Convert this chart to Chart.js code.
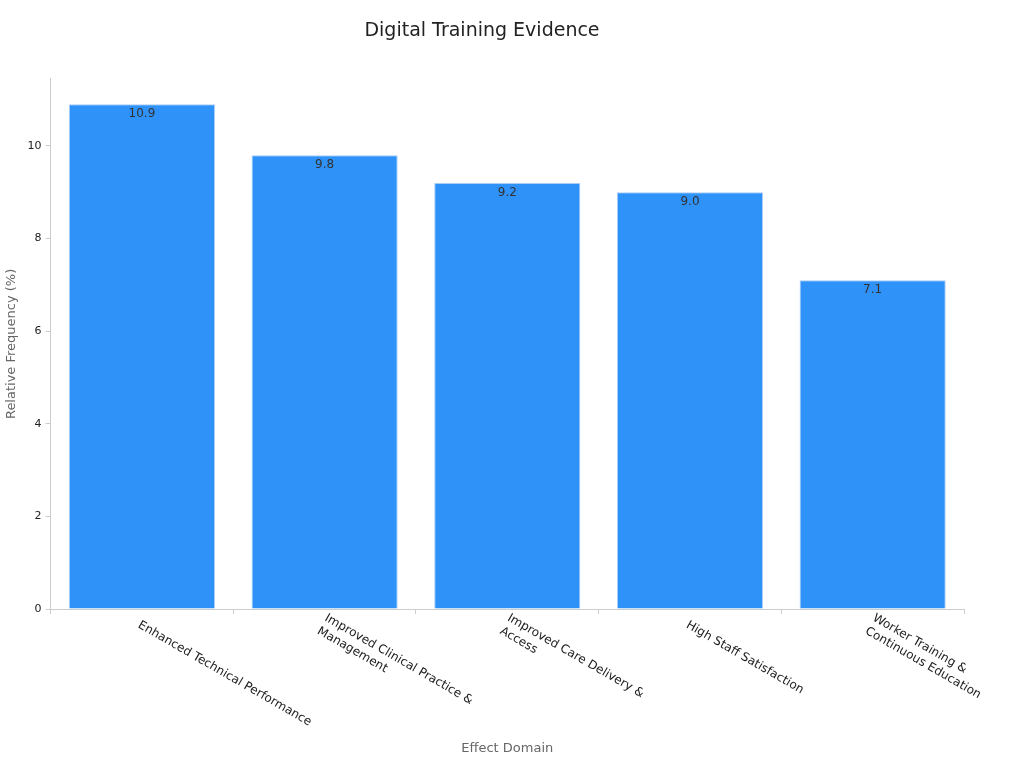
<!DOCTYPE html>
<html>
<head>
<meta charset="utf-8">
<script src="https://cdn.jsdelivr.net/npm/chart.js@4"></script>
<style>
  body { margin: 0; background: #fff; }
</style>
</head>
<body>
<canvas id="myChart" width="1024" height="768"></canvas>
<script>
const categories = [
  ['Enhanced Technical Performance'],
  ['Improved Clinical Practice &', 'Management'],
  ['Improved Care Delivery &', 'Access'],
  ['High Staff Satisfaction'],
  ['Worker Training &', 'Continuous Education']
];
const values = [10.9, 9.8, 9.2, 9.0, 7.1];
const yTicks = [0, 2, 4, 6, 8, 10];

const FONT = 'DejaVu Sans';

// draws rotated x labels (down-right) and the value labels in the bars
const labelPlugin = {
  id: 'labels',
  afterDraw(chart) {
    const c = chart.ctx;
    const x = chart.scales.x;
    c.save();
    c.fillStyle = '#222';
    c.font = '12px ' + FONT;
    c.textAlign = 'left';
    c.textBaseline = 'top';
    categories.forEach((lines, i) => {
      const px = x.getPixelForTick(i);
      c.save();
      c.translate(px, x.top + 10);
      c.rotate(Math.PI / 6);
      lines.forEach((t, j) => {
        c.fillText(t, 0, j * 15 - (lines.length > 1 ? 8 : 0));
      });
      c.restore();
    });
    const meta = chart.getDatasetMeta(0);
    c.fillStyle = '#333';
    c.textAlign = 'center';
    c.textBaseline = 'top';
    meta.data.forEach((bar, i) => {
      c.fillText(values[i].toFixed(1), bar.x, bar.y + 4);
    });
    c.restore();
  }
};

new Chart(document.getElementById('myChart'), {
  type: 'bar',
  data: {
    labels: categories.map(l => l.join(' ')),
    datasets: [{
      data: values,
      backgroundColor: '#2e92f8',
      borderColor: '#a9cdf5',
      borderWidth: 1,
      barPercentage: 0.8,
      categoryPercentage: 1
    }]
  },
  plugins: [labelPlugin],
  options: {
    responsive: false,
    animation: false,
    devicePixelRatio: 1,
    layout: { padding: { left: 0, right: 60, top: 10, bottom: 8 } },
    plugins: {
      legend: { display: false },
      tooltip: { enabled: false },
      title: {
        display: true,
        text: 'Digital Training Evidence',
        color: '#222',
        font: { family: FONT, size: 19, weight: 'normal' },
        padding: { top: 10, bottom: 36 }
      }
    },
    scales: {
      x: {
        grid: { display: true, drawOnChartArea: false, tickLength: 5, color: '#ccc' },
        border: { color: '#ccc' },
        ticks: { display: false },
        title: { display: true, text: 'Effect Domain', color: '#666', font: { family: FONT, size: 13 } },
        afterFit(s) { s.height = 151; }
      },
      y: {
        min: 0,
        max: 11.45,
        afterBuildTicks(s) { s.ticks = yTicks.map(v => ({ value: v })); },
        grid: { display: true, drawOnChartArea: false, tickLength: 5, color: '#ccc' },
        border: { color: '#ccc' },
        ticks: { color: '#222', font: { family: FONT, size: 11 }, padding: 4 },
        title: { display: true, text: 'Relative Frequency (%)', color: '#666', font: { family: FONT, size: 13 } }
      }
    }
  }
});
</script>
</body>
</html>
